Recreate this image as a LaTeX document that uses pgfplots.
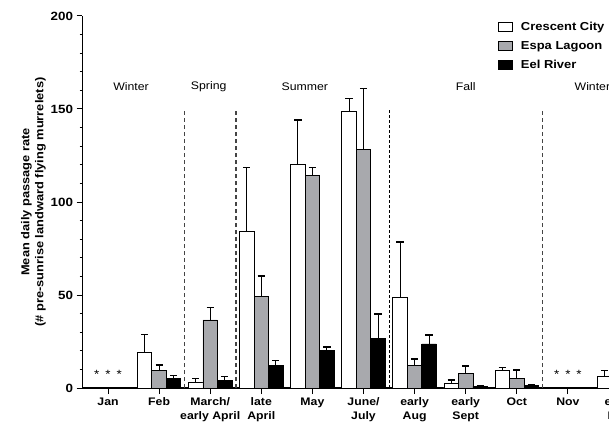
\documentclass[border=0pt]{standalone}
\usepackage{pgfplots}
\pgfplotsset{compat=1.18}
\usepackage{fontspec}
\setmainfont{Liberation Sans}[FakeStretch=1.12]
\definecolor{barGray}{HTML}{A8A9AD}
\definecolor{sepGray}{HTML}{444444}
\begin{document}
\begin{tikzpicture}[x=1bp,y=1bp]
\useasboundingbox (-82.5,-40) rectangle (526.5,388);
\clip (-82.5,-40) rectangle (526.5,388);
\begin{axis}[
  at={(0,0)}, anchor=south west,
  scale only axis, width=562bp, height=372bp,
  xmin=-0.5, xmax=10.5, ymin=0, ymax=200,
  axis x line*=bottom, axis y line*=left,
  axis line style={-, line width=1.2bp, black},
  ytick={0,50,...,200}, minor y tick num=4,
  xtick={0,...,10},
  xticklabels={Jan,Feb,{March/\\early April},{late\\April},May,{June/\\July},{early\\Aug},{early\\Sept},Oct,Nov,{early\\Dec}},
  xticklabel style={align=center, font=\bfseries\fontsize{11}{14}\selectfont},
  yticklabel style={font=\bfseries\fontsize{12}{13}\selectfont},
  /pgf/number format/assume math mode=true,
  tick align=outside, major tick length=6bp, minor tick length=3bp,
  tick style={black, line width=1bp},
  ylabel={Mean daily passage rate\\(\# pre-sunrise landward flying murrelets)},
  ylabel style={align=center, font=\bfseries\fontsize{11.5}{14}\selectfont, yshift=-2bp},
  ybar=0pt, bar width=14.5bp,
  legend style={at={(0.7384,0.99)}, anchor=north west, draw=none, fill=none,
    font=\bfseries\fontsize{11.6}{13}\selectfont, row sep=4bp, inner sep=0pt,
    nodes={inner sep=2.5bp}},
  legend cell align=left,
  legend image code/.code={\draw[#1] (0bp,-4.5bp) rectangle (14bp,4.5bp); \path (20bp,0bp);},
  error bars/y dir=plus, error bars/y explicit,
  error bars/error bar style={line width=0.9bp, black},
  error bars/error mark options={rotate=90, mark size=3.6bp, line width=1.5bp, black},
]
\addplot[draw=black, line width=0.8bp, fill=white] table[x=x, y=y, y error=e] {
x y e
1 19.2 9.5
2 2.9 2.1
3 84.1 34.5
4 120.1 24.0
5 148.8 6.8
6 48.6 30.0
7 2.5 1.8
8 9.3 1.6
10 6.1 3.2
};
\addplot[draw=black, line width=0.8bp, fill=barGray] table[x=x, y=y, y error=e] {
x y e
1 9.3 3.2
2 36.6 6.8
3 49.2 11.1
4 114.3 4.3
5 128.3 32.8
6 12.0 3.6
7 7.9 3.9
8 5.2 4.5
10 0.8 0.4
};
\addplot[draw=black, line width=0.8bp, fill=black] table[x=x, y=y, y error=e] {
x y e
1 5.2 1.4
2 4.1 2.0
3 12.2 2.5
4 20.3 1.8
5 26.8 13.0
6 23.7 4.7
7 0.9 0.1
8 1.6 0.4
10 0.5 0.2
};
\legend{Crescent City, Espa Lagoon, Eel River}
\draw[sepGray, line width=1.5bp, dash pattern=on 4bp off 3bp] (axis cs:1.5,0) -- (axis cs:1.5,150);
\draw[sepGray, line width=1.5bp, dash pattern=on 4bp off 3bp] (axis cs:2.5,0) -- (axis cs:2.5,150);
\draw[black, line width=1bp, dash pattern=on 3bp off 2bp] (axis cs:5.5,0) -- (axis cs:5.5,150);
\draw[sepGray, line width=1.5bp, dash pattern=on 4bp off 3bp] (axis cs:8.5,0) -- (axis cs:8.5,150);
\node[font=\fontsize{11}{12}\selectfont] at (axis cs:0.45,162) {Winter};
\node[font=\fontsize{11}{12}\selectfont] at (axis cs:1.97,162) {Spring};
\node[font=\fontsize{11}{12}\selectfont] at (axis cs:3.85,162) {Summer};
\node[font=\fontsize{11}{12}\selectfont] at (axis cs:7.0,162) {Fall};
\node[font=\fontsize{11}{12}\selectfont] at (axis cs:9.48,162) {Winter};
\node[font=\fontsize{12}{12}\selectfont] at (axis cs:0,7.5) {*\hspace{6bp}*\hspace{6bp}*};
\node[font=\fontsize{12}{12}\selectfont] at (axis cs:9,7.5) {*\hspace{6bp}*\hspace{6bp}*};
\end{axis}
\end{tikzpicture}
\end{document}
